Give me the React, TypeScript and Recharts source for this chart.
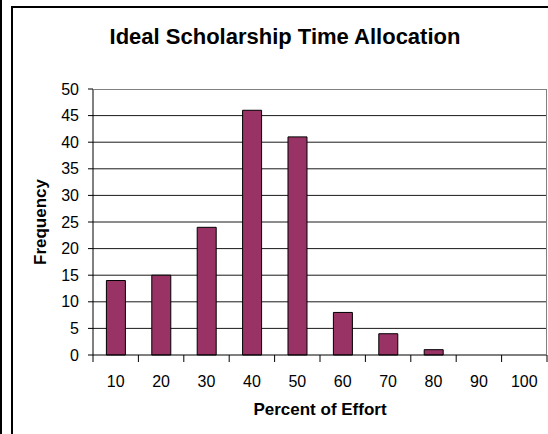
import { Bar, BarChart, CartesianGrid, XAxis, YAxis } from 'recharts';

// Histogram of ideal effort split, binned in 10% steps.
const BINS = ['10', '20', '30', '40', '50', '60', '70', '80', '90', '100'];
const FREQUENCY = [14, 15, 24, 46, 41, 8, 4, 1, 0, 0];
const Y_TICKS = [0, 5, 10, 15, 20, 25, 30, 35, 40, 45, 50];

const TITLE = 'Ideal Scholarship Time Allocation';
const X_TITLE = 'Percent of Effort';
const Y_TITLE = 'Frequency';

const W = 548;
const H = 434;
// plot box edges
const PLOT_L = 93;
const PLOT_T = 89;
const PLOT_R = 547;
const PLOT_B = 355;
const Y_AXIS_W = 60;
const X_AXIS_H = 40;
const TICK_LEN = 7;
const BAND = (PLOT_R - PLOT_L) / BINS.length;

const FONT = '"Liberation Sans", Arial, Helvetica, sans-serif';
const BAR_FILL = '#993366';

const data = BINS.map((bin, i) => ({ bin, frequency: FREQUENCY[i] }));

// Excel-style category axis: tick marks sit between the bins, labels in the middle.
function BinTick(props: any) {
  const { x, y, payload, index } = props;
  const half = BAND / 2;
  return (
    <g>
      <line x1={x - half} x2={x - half} y1={y - TICK_LEN} y2={y} stroke="#000" />
      {index === BINS.length - 1 && (
        <line x1={x + half} x2={x + half} y1={y - TICK_LEN} y2={y} stroke="#000" />
      )}
      <text x={x} y={y + 25} textAnchor="middle" fontSize={16} fill="#000" fontFamily={FONT}>
        {payload.value}
      </text>
    </g>
  );
}

export default function App() {
  return (
    <div
      style={{
        position: 'absolute',
        left: 0,
        top: 0,
        width: W,
        height: H,
        overflow: 'hidden',
        background: '#fff',
        fontFamily: FONT,
        color: '#000',
      }}
    >
      <div style={{ position: 'absolute', left: 0, top: 0, width: 2, height: H, background: '#000' }} />
      <div
        style={{
          position: 'absolute',
          left: 11,
          top: 6,
          width: W,
          height: H + 40,
          border: '2px solid #000',
        }}
      />
      <div
        style={{
          position: 'absolute',
          left: 0,
          width: 570,
          top: 23,
          textAlign: 'center',
          fontSize: 22,
          fontWeight: 700,
          lineHeight: '28px',
        }}
      >
        {TITLE}
      </div>
      <div
        style={{
          position: 'absolute',
          left: PLOT_L,
          width: PLOT_R - PLOT_L,
          top: 399,
          textAlign: 'center',
          fontSize: 17,
          fontWeight: 700,
          lineHeight: '22px',
        }}
      >
        {X_TITLE}
      </div>
      <div
        style={{
          position: 'absolute',
          left: 41 - 60,
          top: (PLOT_T + PLOT_B) / 2 - 11,
          width: 120,
          textAlign: 'center',
          fontSize: 17,
          fontWeight: 700,
          lineHeight: '22px',
          transform: 'rotate(-90deg)',
        }}
      >
        {Y_TITLE}
      </div>
      <BarChart
        width={W}
        height={H}
        data={data}
        margin={{ top: PLOT_T, right: W - PLOT_R, left: PLOT_L - Y_AXIS_W, bottom: H - PLOT_B - X_AXIS_H }}
        barCategoryGap="29.5%"
        style={{ position: 'absolute', left: 0, top: 0 }}
      >
        <CartesianGrid
          vertical={false}
          horizontalValues={Y_TICKS.slice(1, -1)}
          stroke="#000"
          strokeOpacity={0.9}
        />
        <XAxis
          dataKey="bin"
          height={X_AXIS_H}
          axisLine={{ stroke: '#000' }}
          tickLine={{ stroke: 'none' }}
          tickSize={TICK_LEN}
          tickMargin={0}
          tick={<BinTick />}
          interval={0}
        />
        <YAxis
          width={Y_AXIS_W}
          domain={[0, 50]}
          ticks={Y_TICKS}
          interval={0}
          axisLine={{ stroke: '#000' }}
          tickLine={{ stroke: '#000' }}
          tickSize={5}
          tickMargin={9}
          tick={{ fontSize: 16, fill: '#000', fontFamily: FONT }}
        />
        <Bar dataKey="frequency" fill={BAR_FILL} stroke="#000" strokeWidth={1} isAnimationActive={false} />
      </BarChart>
      <div
        style={{
          position: 'absolute',
          left: PLOT_L,
          top: PLOT_T,
          width: PLOT_R - PLOT_L,
          height: PLOT_B - PLOT_T,
          borderTop: '1px solid #808080',
          borderRight: '1px solid #808080',
          boxSizing: 'border-box',
          pointerEvents: 'none',
        }}
      />
    </div>
  );
}
